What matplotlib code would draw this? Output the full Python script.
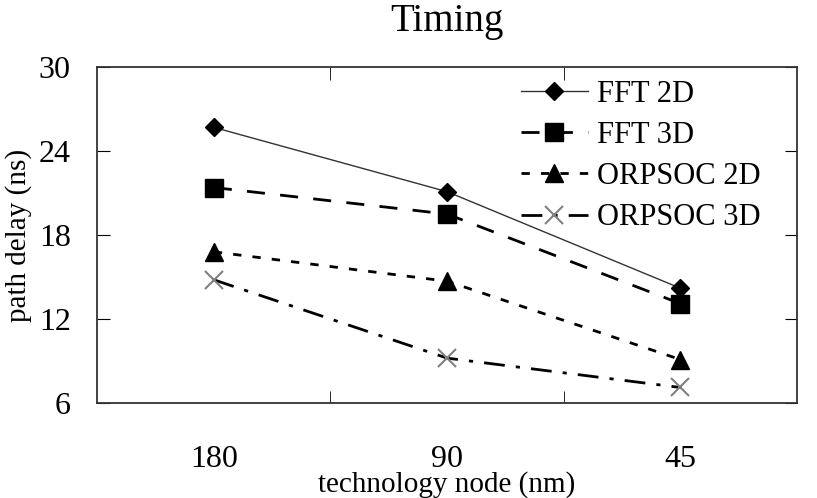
import numpy as np
import matplotlib.pyplot as plt

plt.rcParams['font.family'] = ['Liberation Serif', 'DejaVu Serif']

# data
nodes = ['180', '90', '45']
fft_2d = [25.7, 21.1, 14.2]
fft_3d = [21.4, 19.5, 13.1]
orpsoc_2d = [16.8, 14.7, 9.1]
orpsoc_3d = [14.8, 9.2, 7.1]

x = np.arange(1, len(nodes) + 1)

fig = plt.figure(figsize=(8.17, 4.98), dpi=100)
ax = fig.add_axes([0.119, 0.191, 0.8565, 0.674])

ax.plot(x, fft_2d, color='#333333', linewidth=1.0, marker='D', markersize=9,
        markerfacecolor='black', markeredgecolor='black', label='FFT 2D')
ax.plot(x, fft_3d, color='black', linewidth=2.0, dashes=[6.5, 5.5], marker='s',
        markersize=13, label='FFT 3D')
ax.plot(x, orpsoc_2d, color='black', linewidth=2.0, dashes=[3, 4], marker='^',
        markersize=13, label='ORPSOC 2D')
ax.plot(x, orpsoc_3d, color='black', linewidth=2.0, dashes=[7.5, 4, 1.5, 4],
        marker='x', markersize=13, markeredgecolor='#808080', markeredgewidth=1.5,
        label='ORPSOC 3D')

ax.set_xlim(0.5, 3.5)
ax.set_ylim(6, 30)

# labels at the data points, tick marks between them
ax.set_xticks(x)
ax.set_xticklabels(nodes)
ax.tick_params(axis='x', which='major', length=0, pad=30, labelsize=23)
ax.set_xticks([1.5, 2.5], minor=True)
ax.tick_params(axis='x', which='minor', direction='in', length=9, top=True, bottom=True)

ax.set_yticks([6, 12, 18, 24, 30])
ax.tick_params(axis='y', direction='in', length=9, left=True, right=True, pad=19, labelsize=23)

for sp in ax.spines.values():
    sp.set_linewidth(1.3)
    sp.set_color('#333333')

ax.set_title('Timing', fontsize=28, pad=26)
ax.set_xlabel('technology node (nm)', fontsize=21, va='baseline')
ax.xaxis.set_label_coords(0.5, -0.264)
ax.set_ylabel('path delay (ns)', fontsize=21)
ax.yaxis.set_label_coords(-0.093, 0.5)

ax.legend(loc='upper left', bbox_to_anchor=(0.605, 0.963), frameon=False,
          fontsize=22, handlelength=2.2, handletextpad=0.3, labelspacing=0.4,
          borderpad=0, borderaxespad=0)

fig.savefig('out.png', dpi=100)
